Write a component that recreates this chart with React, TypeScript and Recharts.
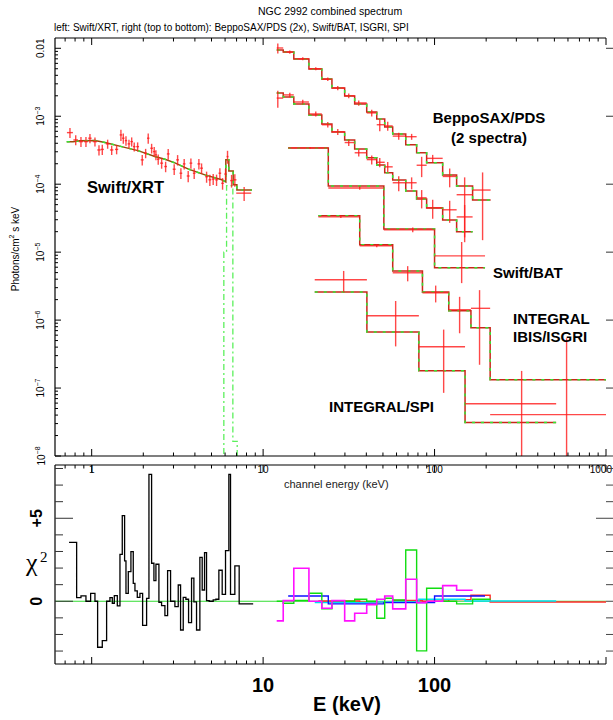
import React from 'react'
import { ComposedChart, Line, Scatter, ErrorBar, XAxis, YAxis, ReferenceLine } from 'recharts'

const FONT = '"Liberation Sans", Arial, Helvetica, sans-serif'
const SERIF = '"Liberation Serif", "DejaVu Serif", serif'

// ---------- top panel: unfolded spectra (keV vs photons/cm2/s/keV) ----------

// Swift/XRT points: [E, dE, F, dF]
const xrtPoints = [
  [0.747, 0.03, 5.74e-4, 9.5e-5],
  [0.807, 0.025, 4.48e-4, 7.5e-5],
  [0.866, 0.025, 4.23e-4, 7e-5],
  [0.926, 0.025, 4.23e-4, 7e-5],
  [0.977, 0.022, 4.75e-4, 7.5e-5],
  [1.045, 0.03, 4.23e-4, 6.5e-5],
  [1.103, 0.025, 3.19e-4, 5.5e-5],
  [1.153, 0.025, 3.25e-4, 5.5e-5],
  [1.239, 0.03, 3.92e-4, 6e-5],
  [1.308, 0.03, 3.19e-4, 5e-5],
  [1.398, 0.03, 3.25e-4, 5e-5],
  [1.481, 0.025, 5.31e-4, 1.0e-4],
  [1.529, 0.025, 4.75e-4, 8e-5],
  [1.585, 0.025, 4.38e-4, 7e-5],
  [1.65, 0.03, 3.92e-4, 6e-5],
  [1.711, 0.03, 4.23e-4, 6.5e-5],
  [1.771, 0.03, 3.57e-4, 5.5e-5],
  [1.854, 0.035, 3.57e-4, 5.5e-5],
  [1.972, 0.04, 2.28e-4, 4e-5],
  [2.064, 0.04, 2.86e-4, 4.5e-5],
  [2.137, 0.035, 4.75e-4, 8e-5],
  [2.237, 0.04, 3.38e-4, 5.5e-5],
  [2.316, 0.04, 3.02e-4, 5e-5],
  [2.37, 0.035, 2.7e-4, 4.5e-5],
  [2.444, 0.04, 2.33e-4, 4e-5],
  [2.559, 0.05, 2.04e-4, 3.5e-5],
  [2.7, 0.05, 1.82e-4, 3.2e-5],
  [2.795, 0.05, 2.79e-4, 5e-5],
  [3.029, 0.06, 1.66e-4, 3e-5],
  [3.171, 0.06, 2.28e-4, 4e-5],
  [3.314, 0.06, 1.45e-4, 2.6e-5],
  [3.464, 0.06, 1.99e-4, 3.5e-5],
  [3.656, 0.07, 1.32e-4, 2.5e-5],
  [3.791, 0.07, 2.04e-4, 3.5e-5],
  [3.962, 0.07, 1.45e-4, 2.6e-5],
  [4.22, 0.08, 1.99e-4, 3.5e-5],
  [4.375, 0.08, 1.72e-4, 3e-5],
  [4.68, 0.09, 1.29e-4, 2.4e-5],
  [4.891, 0.09, 1.16e-4, 2.2e-5],
  [5.114, 0.1, 1.19e-4, 2.2e-5],
  [5.35, 0.1, 1.16e-4, 2.2e-5],
  [5.594, 0.1, 1.45e-4, 2.6e-5],
  [5.8, 0.1, 1.03e-4, 2e-5],
  [6.037, 0.1, 1.41e-4, 2.6e-5],
  [6.2, 0.08, 2.55e-4, 5.5e-5],
  [6.546, 0.12, 1.13e-4, 2.4e-5],
  [6.84, 0.15, 1.16e-4, 2.4e-5],
  [7.75, 0.78, 7.38e-5, 1.7e-5],
]

// XRT total model (continuum + Fe K line)
const xrtModelE = [0.715, 0.78, 0.85, 1.045, 1.195, 1.496, 1.861, 2.338, 2.674, 3.058, 3.641, 4.574, 5.743, 6.06, 6.06, 6.31, 6.31, 6.69, 6.69, 7.03, 7.03, 8.6]
const xrtModelF = [4.2e-4, 4.2e-4, 4.35e-4, 4.4e-4, 4.1e-4, 3.57e-4, 3.12e-4, 2.55e-4, 2.33e-4, 2.06e-4, 1.68e-4, 1.37e-4, 1.16e-4, 1.08e-4, 2.28e-4, 2.28e-4, 1.57e-4, 1.57e-4, 9.8e-5, 9.8e-5, 8.2e-5, 8.2e-5]

// Fe line component (dash-dot)
const feLineE = [5.9, 5.9, 6.12, 6.66, 7.06]
const feLineF = [1e-9, 1.0e-5, 9.5e-5, 1.64e-8, 1e-9]

// BeppoSAX/PDS (two spectra share the channel grid)
const pdsEdges = [12.0, 13.1, 15.1, 18.5, 22, 25.2, 29.9, 34.2, 40.2, 46, 51.2, 57, 67.9, 78.6, 89.9, 111.5, 134.5, 166.7, 212.3]
const pds1Model = [0.00944, 0.00883, 0.00697, 0.00497, 0.00354, 0.00261, 0.00199, 0.00152, 0.001157, 0.000912, 0.000696, 0.000549, 0.000379, 0.000289, 0.000206, 0.000137, 9.44e-5, 5.87e-5]
const pds2Model = [0.0022, 0.00192, 0.00152, 0.001045, 0.00077, 0.000588, 0.000448, 0.00033, 0.000244, 0.000192, 0.000147, 0.0001156, 7.96e-5, 6.08e-5, 4.48e-5, 2.98e-5, 1.99e-5]
const pdsE = [12.18, 14.31, 17.03, 20.28, 23.83, 27.25, 31.58, 36.12, 43.0, 47.9, 53.3, 61.8, 73.5, 84.1, 97.5, 122.5, 149.8, 190.6]
const pds1Flux = [0.0101, 0.0088, 0.007, 0.005, 0.0035, 0.0026, 0.002, 0.00157, 0.00112, 0.00075, 0.00072, 0.00051, 0.0005, 0.00019, 0.00024, 0.00013, 7.0e-5, 8.2e-5]
const pds1Err = [1.7e-3, 5e-4, 3.5e-4, 2.5e-4, 2.1e-4, 1.8e-4, 1.6e-4, 1.4e-4, 1.3e-4, 1.5e-4, 1.1e-4, 6e-5, 5e-5, 6.3e-5, 3e-5, 4e-5, 5.6e-5, 6.7e-5]
const pds2Flux = [0.00185, 0.00206, 0.00162, 0.00108, 0.00075, 0.00059, 0.00041, 0.00029, 0.00023, 0.00021, 0.00018, 0.000105, 0.000105, 6.3e-5, 4.5e-5, 4.2e-5, 3.3e-5]
const pds2Err = [5.2e-4, 1.6e-4, 1.3e-4, 9e-5, 7e-5, 6e-5, 4.5e-5, 3.5e-5, 3.5e-5, 3.2e-5, 3.2e-5, 2.6e-5, 2.1e-5, 1.9e-5, 1.4e-5, 1.5e-5, 1.65e-5]

// Swift/BAT
const batEdges = [14, 24, 50.6, 100, 197]
const batModel = [3.42e-4, 9.4e-5, 2.2e-5, 5.9e-6]
const batE = [18.8, 36.6, 74.6, 143.9]
const batFlux = [3.42e-4, 8.8e-5, 2.13e-5, 8.8e-6]
const batErr = [1.0e-5, 5e-6, 1.7e-6, 5.3e-6]

// INTEGRAL IBIS/ISGRI
const isgriEdges = [21, 36.6, 57, 85, 121, 163, 211, 1000]
const isgriModel = [3.42e-5, 1.28e-5, 5.3e-6, 2.6e-6, 1.37e-6, 7.7e-7, 1.32e-7]
const isgriE = [28.4, 46, 69.7, 101.5, 140, 183, 589]
const isgriFlux = [3.3e-5, 1.24e-5, 4.97e-6, 2.52e-6, 1.42e-6, 1.49e-6, 4.06e-8]
const isgriErr = [1.3e-6, 6e-7, 1.25e-6, 7e-7, 7.8e-7, 1.27e-6, 5.0e-7]

// INTEGRAL/SPI
const spiEdges = [20, 40.3, 81, 150.6, 512]
const spiModel = [2.6e-6, 6.7e-7, 1.8e-7, 3.1e-8]
const spiE = [29.5, 59.3, 113, 322]
const spiFlux = [3.92e-6, 1.16e-6, 4.05e-7, 5.87e-8]
const spiErr = [1.37e-6, 7.5e-7, 3.2e-7, 1.2e-7]

// ---------- bottom panel: residuals ----------
const xrtResEdges = [0.738, 0.817, 0.866, 0.926, 0.986, 1.045, 1.083, 1.153, 1.222, 1.278, 1.319, 1.355, 1.411, 1.462, 1.508, 1.556, 1.585, 1.635, 1.694, 1.748, 1.788, 1.845, 1.912, 1.982, 2.091, 2.158, 2.236, 2.307, 2.37, 2.467, 2.557, 2.674, 2.772, 2.885, 3.058, 3.198, 3.3, 3.42, 3.544, 3.674, 3.824, 3.946, 4.089, 4.276, 4.412, 4.553, 4.677, 4.847, 5.114, 5.302, 5.519, 5.771, 6.035, 6.311, 6.454, 6.84, 7.25, 8.75]
const xrtResChi = [3.55, 0.22, 0.32, 0, 0.48, 0, -2.77, -2.37, 0, 0.22, -0.12, 0.34, -0.28, 2.83, 5.16, 2.43, 0.48, 1.79, 2.99, 1.08, 0.62, 0.24, 0.48, -1.45, 0.18, 7.65, 2.29, 1.24, 2.23, -0.06, -0.26, -0.86, 1.85, 0, -0.32, 0.98, -1.73, 0.24, 0.12, -1.29, 1.39, -0.04, -1.73, 2.65, 0.68, 2.93, 0.04, 0, 0.08, 0.12, 1.87, 0.42, 3.05, 7.65, 0.42, 2.13, -0.16]
const pds1Res = [0, -0.12, 0.05, 0.48, -0.46, 0.02, 0, 0.12, 0, -1.02, 0.18, 0.08, 3.09, -2.99, 0.78, 0, -0.16, 0.12]
const pds2Res = [-1.18, 0.04, 1.99, 0, -0.42, 0.04, -1.18, -0.72, -0.2, 0.12, 0.32, -0.46, 1.33, -0.08, 0, 0.94, 0.66]
const batRes = [0.32, -0.16, -0.08, 0.32]
const spiRes = [-0.08, -0.04, 0.12, 0.02]
const isgriRes = [0.02, -0.05, 0.05, 0, 0.1, 0.36, -0.04]

// ---------- axes ----------
const X_DOMAIN: [number, number] = [0.611, 1000]
const Y_TOP: [number, number] = [1e-8, 0.01417]
const Y_RES: [number, number] = [-3.78, 8.21]
const xTicks = [0.7, 0.8, 0.9, 1, 2, 3, 4, 5, 6, 7, 8, 9, 10, 20, 30, 40, 50, 60, 70, 80, 90, 100, 200, 300, 400, 500, 600, 700, 800, 900, 1000]
const yDecades = [1e-8, 1e-7, 1e-6, 1e-5, 1e-4, 1e-3, 1e-2]
const yTicksTop = yDecades.flatMap((d) => [1, 2, 3, 4, 5, 6, 7, 8, 9].map((m) => m * d)).filter((v) => v < 0.0141)
const resTicks = [-3, -2, -1, 0, 1, 2, 3, 4, 5, 6, 7, 8]
const resLabels: Record<number, string> = { 0: '0', 5: '+5' }

const FLOOR = 1e-8
const steps = (edges: number[], vals: number[], key: string) =>
  edges.map((e, i) => ({ e, [key]: vals[Math.min(i, vals.length - 1)] }))
const pairs = (es: number[], fs: number[]) => es.map((e, i) => ({ e, f: fs[i] }))

function crossData(es: number[], lo: number[], hi: number[], fs: number[], dfs: number[]) {
  return fs.map((f, i) => ({
    e: es[i],
    f,
    ex: [es[i] - lo[i], hi[i] - es[i]],
    ey: [f - Math.max(f - dfs[i], FLOOR), dfs[i]],
  }))
}
const binCross = (edges: number[], es: number[], fs: number[], dfs: number[]) =>
  crossData(es, edges.slice(0, -1), edges.slice(1), fs, dfs)

const xrtCross = crossData(
  xrtPoints.map((p) => p[0]),
  xrtPoints.map((p) => p[0] - p[1]),
  xrtPoints.map((p) => p[0] + p[1]),
  xrtPoints.map((p) => p[2]),
  xrtPoints.map((p) => p[3]),
)

const isDecade = (v: number) => Math.abs(Math.log10(v) - Math.round(Math.log10(v))) < 1e-6
const AX = { stroke: '#000', strokeWidth: 1.2 }

function decadeLabel(v: number) {
  const p = Math.round(Math.log10(v))
  if (p === -2) return '0.01'
  return (
    <>
      10<tspan dy={-4} fontSize={7}>{'\u2212' + -p}</tspan>
    </>
  )
}

// tick renderers (ticks point into the frame)
const topBottomTick = (p: any) => {
  const { x, y, payload } = p
  const v = payload.value
  const major = isDecade(v)
  const last = v === 1000
  return (
    <g>
      <line x1={x} y1={y} x2={x} y2={y - (major ? 7 : 3.5)} stroke="#000" />
      {major && (
        <text
          x={last ? 612 : x}
          y={y + 17}
          textAnchor={last ? 'end' : 'middle'}
          fontSize={10}
          fontFamily={FONT}
          fill="#000"
        >
          {v}
        </text>
      )}
    </g>
  )
}
const downTick = (p: any) => {
  const { x, y, payload } = p
  const major = isDecade(payload.value)
  return <line x1={x} y1={y} x2={x} y2={y + (major ? 7 : 3.5)} stroke="#000" />
}
const topLeftTick = (p: any) => {
  const { x, y, payload } = p
  const major = isDecade(payload.value)
  return (
    <g>
      <line x1={x} y1={y} x2={x + (major ? 6 : 3)} y2={y} stroke="#000" />
      {major && (
        <text
          x={41}
          y={y}
          transform={`rotate(-90 41 ${y})`}
          textAnchor="middle"
          dominantBaseline="central"
          fontSize={10}
          fontFamily={FONT}
          fill="#000"
        >
          {decadeLabel(payload.value)}
        </text>
      )}
    </g>
  )
}
const rightTick = (p: any) => {
  const { x, y } = p
  return <line x1={x} y1={y} x2={x + 8} y2={y} stroke="#333" />
}
const resBottomTick = (p: any) => {
  const { x, y, payload } = p
  const v = payload.value
  const major = isDecade(v)
  return (
    <g>
      <line x1={x} y1={y} x2={x} y2={y - (major ? 7 : 3.5)} stroke="#000" />
      {(v === 10 || v === 100) && (
        <text x={x} y={y + 28} textAnchor="middle" fontSize={20} fontWeight="bold" fontFamily={FONT} fill="#000">
          {v}
        </text>
      )}
    </g>
  )
}
const resLeftTick = (p: any) => {
  const { x, y, payload } = p
  const v = payload.value
  const major = v === 0 || v === 5
  return (
    <g>
      <line x1={x} y1={y} x2={x + (major ? 18 : 8)} y2={y} stroke="#333" />
      {resLabels[v] && (
        <text
          x={37}
          y={y}
          transform={`rotate(-90 37 ${y})`}
          textAnchor="middle"
          dominantBaseline="central"
          fontSize={16}
          fontWeight="bold"
          fontFamily={FONT}
          fill="#000"
        >
          {resLabels[v]}
        </text>
      )}
    </g>
  )
}
const resRightTick = (p: any) => {
  const { x, y, payload } = p
  const major = payload.value === 5
  return <line x1={x - (major ? 10 : 0)} y1={y} x2={x + 8} y2={y} stroke="#444" />
}

const MODEL_RED = '#c8281a'
const MODEL_GREEN = '#33e633'
const DATA_RED = '#ff1a1a'

function modelLines(id: string, data: any[], base = MODEL_RED, type: any = 'stepAfter') {
  return [
    <Line
      key={id + '-b'}
      data={data}
      dataKey="f"
      type={type}
      stroke={base}
      strokeWidth={1.5}
      dot={false}
      activeDot={false}
      isAnimationActive={false}
    />,
    <Line
      key={id + '-g'}
      data={data}
      dataKey="f"
      type={type}
      stroke={MODEL_GREEN}
      strokeWidth={1.5}
      strokeDasharray="3 6"
      dot={false}
      activeDot={false}
      isAnimationActive={false}
    />,
  ]
}

function crosses(id: string, data: any[]) {
  return (
    <Scatter key={id} data={data} dataKey="f" isAnimationActive={false} shape={() => <g />}>
      <ErrorBar dataKey="ex" direction="x" width={0} stroke={DATA_RED} strokeWidth={1.4} strokeOpacity={0.8} />
      <ErrorBar dataKey="ey" direction="y" width={0} stroke={DATA_RED} strokeWidth={1.4} strokeOpacity={0.8} />
    </Scatter>
  )
}

function resLine(id: string, edges: number[], vals: number[], color: string, w = 1.4) {
  return (
    <Line
      key={id}
      data={steps(edges, vals, 'r')}
      dataKey="r"
      type="stepAfter"
      stroke={color}
      strokeWidth={w}
      dot={false}
      activeDot={false}
      isAnimationActive={false}
    />
  )
}

// axis bands are 1px wide: recharts skips axes of zero size
function TopPanel() {
  return (
    <ComposedChart width={613} height={480} margin={{ top: 37, right: 6, bottom: 23, left: 54 }}>
      <XAxis
        dataKey="e"
        type="number"
        scale="log"
        domain={X_DOMAIN}
        allowDataOverflow
        ticks={xTicks}
        interval={0}
        height={1}
        tickSize={0}
        tickMargin={0}
        tickLine={false}
        axisLine={AX}
        tick={topBottomTick}
      />
      <XAxis
        xAxisId="t"
        orientation="top"
        dataKey="e"
        type="number"
        scale="log"
        domain={X_DOMAIN}
        allowDataOverflow
        ticks={xTicks}
        interval={0}
        height={1}
        tickSize={0}
        tickMargin={0}
        tickLine={false}
        axisLine={AX}
        tick={downTick}
      />
      <YAxis
        type="number"
        scale="log"
        domain={Y_TOP}
        allowDataOverflow
        ticks={yTicksTop}
        interval={0}
        width={1}
        tickSize={0}
        tickMargin={0}
        tickLine={false}
        axisLine={AX}
        tick={topLeftTick}
      />
      <YAxis
        yAxisId="r"
        orientation="right"
        type="number"
        scale="log"
        domain={Y_TOP}
        allowDataOverflow
        ticks={yDecades}
        interval={0}
        width={1}
        tickSize={0}
        tickMargin={0}
        tickLine={false}
        axisLine={false}
        tick={rightTick}
      />
      <Line
        data={pairs(feLineE, feLineF)}
        dataKey="f"
        type="stepAfter"
        stroke="#5cf05c"
        strokeWidth={1.3}
        strokeDasharray="6 3 2 3"
        dot={false}
        activeDot={false}
        isAnimationActive={false}
      />
      {modelLines('xrt', pairs(xrtModelE, xrtModelF), '#9a4a0a', 'linear')}
      {modelLines('pds1', steps(pdsEdges, pds1Model, 'f'))}
      {modelLines('pds2', steps(pdsEdges.slice(0, pds2Model.length + 1), pds2Model, 'f'))}
      {modelLines('bat', steps(batEdges, batModel, 'f'))}
      {modelLines('isgri', steps(isgriEdges, isgriModel, 'f'))}
      {modelLines('spi', steps(spiEdges, spiModel, 'f'))}
      {crosses('xrtd', xrtCross)}
      {crosses('pds1d', binCross(pdsEdges, pdsE, pds1Flux, pds1Err))}
      {crosses('pds2d', binCross(pdsEdges, pdsE, pds2Flux, pds2Err))}
      {crosses('batd', binCross(batEdges, batE, batFlux, batErr))}
      {crosses('isgrid', binCross(isgriEdges, isgriE, isgriFlux, isgriErr))}
      {crosses('spid', binCross(spiEdges, spiE, spiFlux, spiErr))}
    </ComposedChart>
  )
}

function BottomPanel() {
  return (
    <ComposedChart width={613} height={280} margin={{ top: 24, right: 6, bottom: 55, left: 54 }}>
      <XAxis
        dataKey="e"
        type="number"
        scale="log"
        domain={X_DOMAIN}
        allowDataOverflow
        ticks={xTicks}
        interval={0}
        height={1}
        tickSize={0}
        tickMargin={0}
        tickLine={false}
        axisLine={AX}
        tick={resBottomTick}
      />
      <XAxis
        xAxisId="t"
        orientation="top"
        dataKey="e"
        type="number"
        scale="log"
        domain={X_DOMAIN}
        allowDataOverflow
        ticks={xTicks}
        interval={0}
        height={1}
        tickSize={0}
        tickMargin={0}
        tickLine={false}
        axisLine={AX}
        tick={downTick}
      />
      <YAxis
        type="number"
        domain={Y_RES}
        allowDataOverflow
        ticks={resTicks}
        interval={0}
        width={1}
        tickSize={0}
        tickMargin={0}
        tickLine={false}
        axisLine={AX}
        tick={resLeftTick}
      />
      <YAxis
        yAxisId="r"
        orientation="right"
        type="number"
        domain={Y_RES}
        allowDataOverflow
        ticks={resTicks}
        interval={0}
        width={1}
        tickSize={0}
        tickMargin={0}
        tickLine={false}
        axisLine={false}
        tick={resRightTick}
      />
      <ReferenceLine y={0} stroke="#33dd33" strokeWidth={1} />
      {resLine('xrtr', xrtResEdges, xrtResChi, '#000', 1.3)}
      {resLine('isgrir', isgriEdges, isgriRes, '#ff2a2a')}
      {resLine('spir', spiEdges, spiRes, '#00e0f0')}
      {resLine('batr', batEdges, batRes, '#1010ff')}
      {resLine('pds1r', pdsEdges, pds1Res, '#10dd10')}
      {resLine('pds2r', pdsEdges.slice(0, pds2Res.length + 1), pds2Res, '#ff10ff', 1.6)}
    </ComposedChart>
  )
}

export default function App() {
  const bold = { fontFamily: FONT, fontWeight: 'bold' as const, fill: '#000' }
  return (
    <div style={{ position: 'absolute', left: 0, top: 0, width: 613, height: 720, background: '#fff', overflow: 'hidden' }}>
      <div style={{ position: 'absolute', left: 0, top: 0 }}>
        <TopPanel />
      </div>
      <div style={{ position: 'absolute', left: 0, top: 440 }}>
        <BottomPanel />
      </div>
      <svg width={613} height={720} style={{ position: 'absolute', left: 0, top: 0, pointerEvents: 'none' }}>
        <text x={258} y={15} fontSize={10.5} fontFamily={FONT} fill="#000">
          NGC 2992 combined spectrum
        </text>
        <text x={54} y={31} fontSize={10} fontFamily={FONT} fill="#000">
          left: Swift/XRT, right (top to bottom): BeppoSAX/PDS (2x), Swift/BAT, ISGRI, SPI
        </text>
        <text
          x={15}
          y={249}
          transform="rotate(-90 15 249)"
          textAnchor="middle"
          dominantBaseline="central"
          fontSize={10}
          fontFamily={FONT}
          fill="#000"
        >
          Photons/cm<tspan dy={-4} fontSize={7}>2</tspan>
          <tspan dy={4}> s keV</tspan>
        </text>
        <text x={87} y={193} fontSize={16.5} {...bold}>
          Swift/XRT
        </text>
        <text x={489} y={123} fontSize={15} textAnchor="middle" {...bold}>
          BeppoSAX/PDS
        </text>
        <text x={489} y={143} fontSize={15} textAnchor="middle" {...bold}>
          (2 spectra)
        </text>
        <text x={493} y={278} fontSize={15} {...bold}>
          Swift/BAT
        </text>
        <text x={513} y={324} fontSize={15} {...bold}>
          INTEGRAL
        </text>
        <text x={513} y={341.5} fontSize={15} {...bold}>
          IBIS/ISGRI
        </text>
        <text x={329} y={412} fontSize={15} {...bold}>
          INTEGRAL/SPI
        </text>
        <text x={284} y={488} fontSize={11} fontFamily={FONT} fill="#222">
          channel energy (keV)
        </text>
        <text x={26} y={571} fontSize={26} fontFamily={SERIF} fill="#000">
          χ
        </text>
        <text x={40} y={562} fontSize={15} fontFamily={SERIF} fill="#000">
          2
        </text>
        <text x={347} y={711} fontSize={20} textAnchor="middle" {...bold}>
          E (keV)
        </text>
      </svg>
    </div>
  )
}
